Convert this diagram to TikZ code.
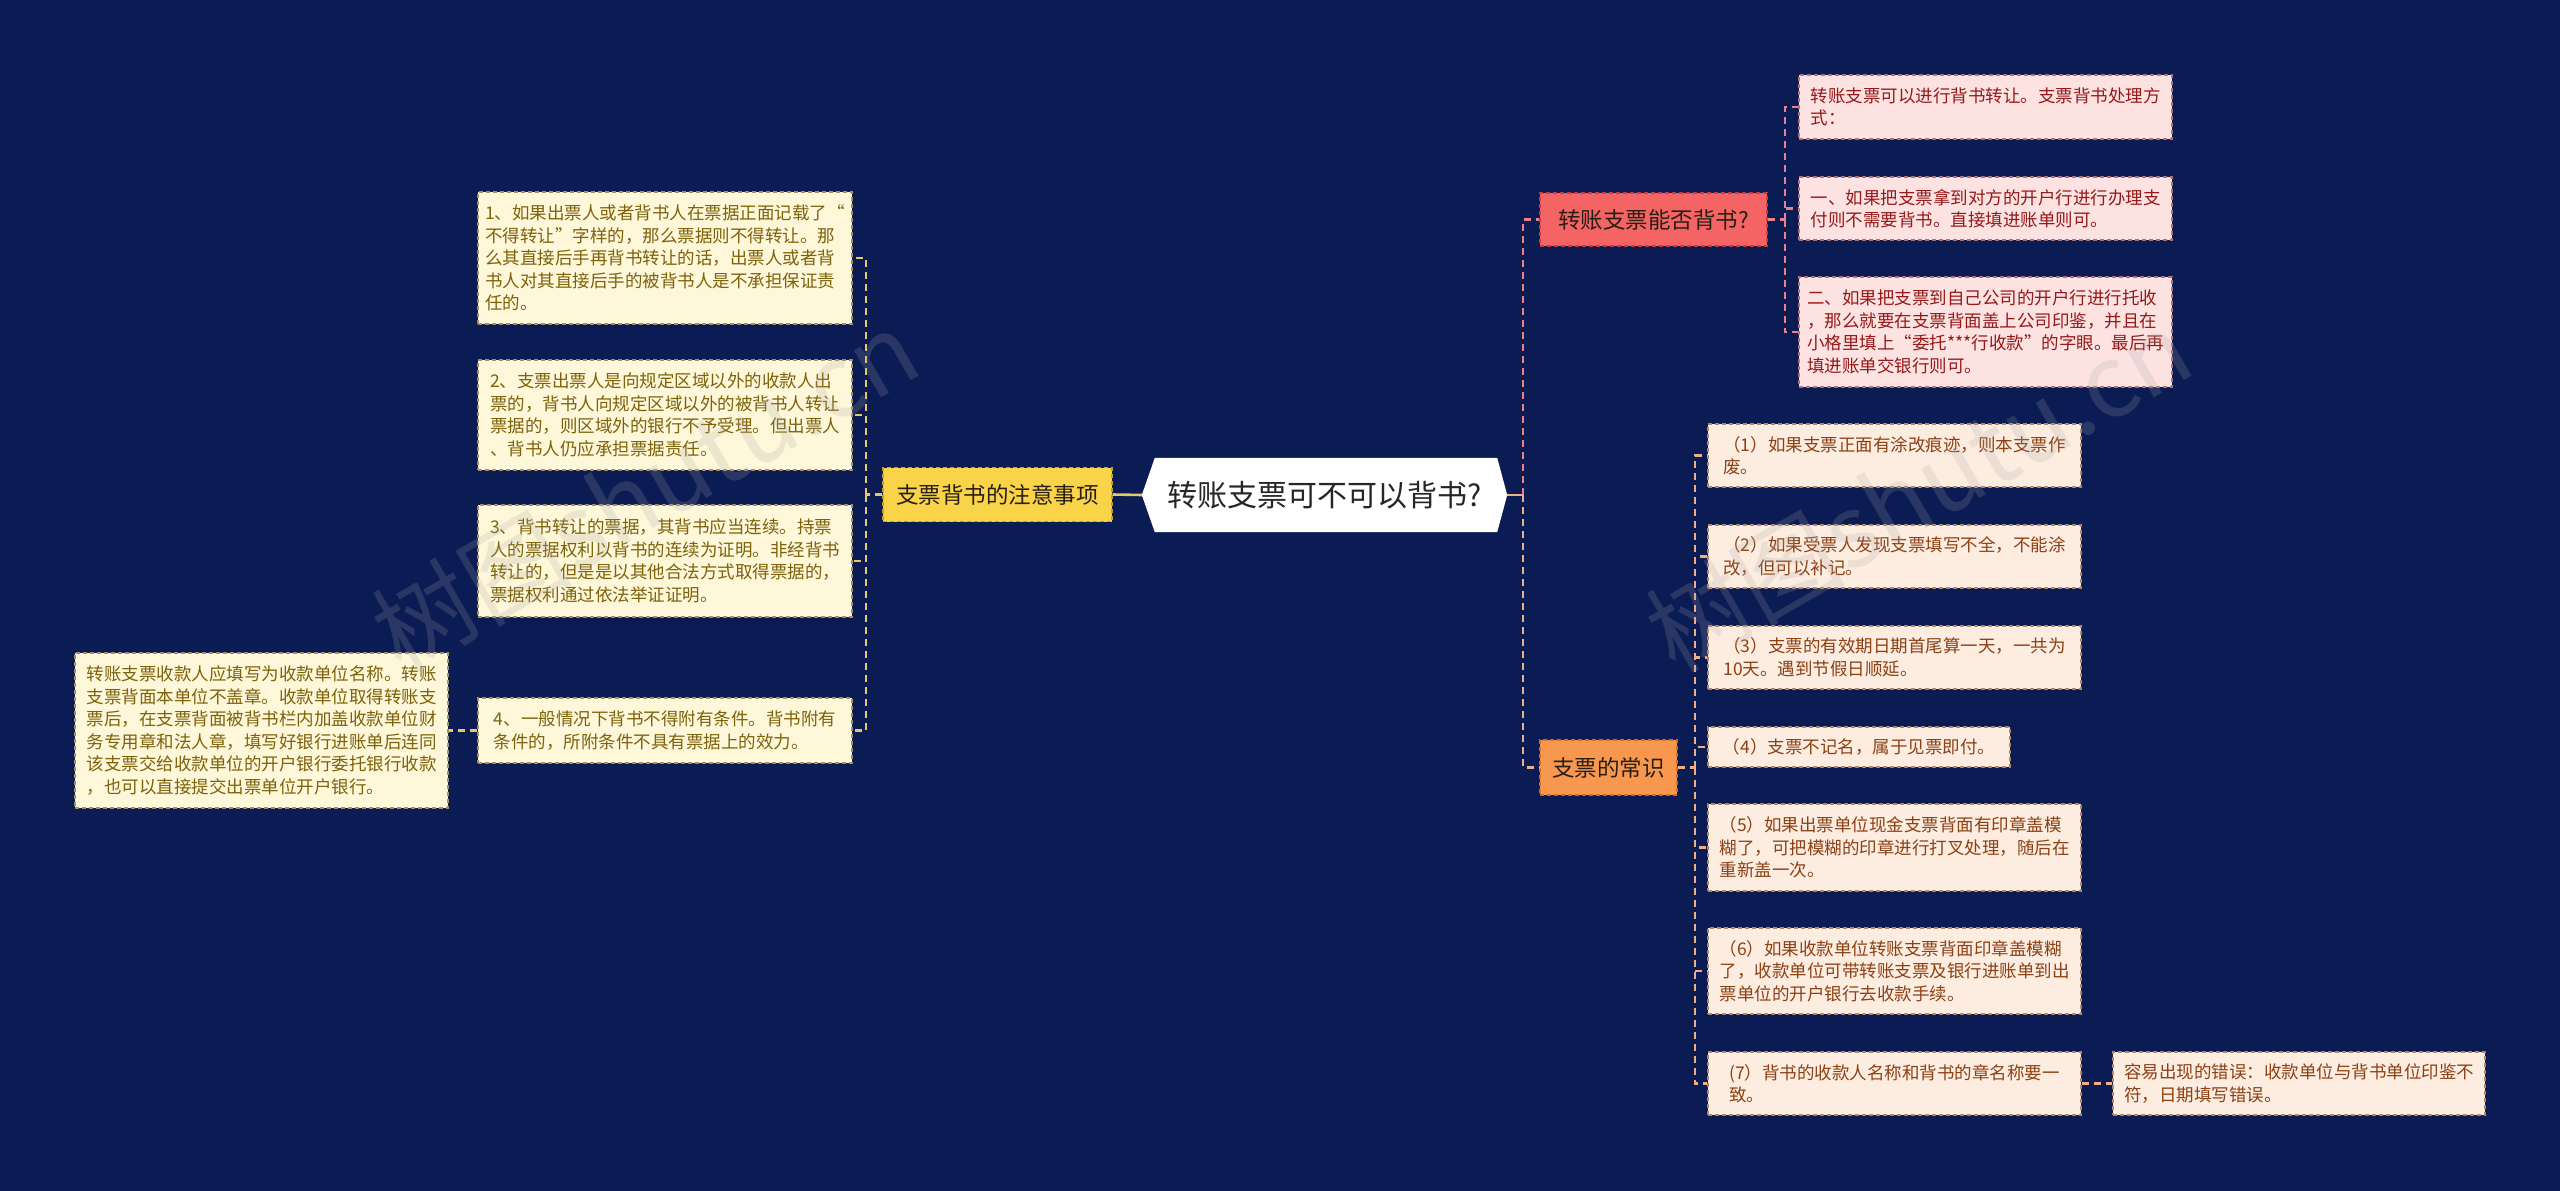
\documentclass[tikz,border=0pt]{standalone}
\usepackage{fontspec}
\setmainfont{Noto Sans CJK SC}
\usetikzlibrary{backgrounds}
\definecolor{bgc}{RGB}{11,27,84}
\definecolor{ymain}{RGB}{249,212,72}
\definecolor{ymainb}{RGB}{200,160,40}
\definecolor{yfill}{RGB}{254,247,218}
\definecolor{ytext}{RGB}{125,98,10}
\definecolor{yborder}{RGB}{160,145,100}
\definecolor{yconn}{RGB}{232,200,100}
\definecolor{rmain}{RGB}{245,100,100}
\definecolor{rmainb}{RGB}{200,60,60}
\definecolor{rfill}{RGB}{253,226,226}
\definecolor{rtext}{RGB}{150,25,25}
\definecolor{rborder}{RGB}{175,115,115}
\definecolor{rconn}{RGB}{232,130,140}
\definecolor{omain}{RGB}{248,152,78}
\definecolor{omainb}{RGB}{205,110,40}
\definecolor{ofill}{RGB}{253,236,224}
\definecolor{otext}{RGB}{140,65,20}
\definecolor{oborder}{RGB}{175,135,105}
\definecolor{oconn}{RGB}{240,175,130}
\definecolor{darktext}{RGB}{40,30,20}
\tikzset{
  leaf/.style={draw, line width=1.3pt, dash pattern=on 4pt off 3pt, inner sep=0pt,
    align=left, font=\fontsize{17.5pt}{22.5pt}\selectfont},
  yleaf/.style={leaf, fill=yfill, draw=yborder, text=ytext},
  rleaf/.style={leaf, fill=rfill, draw=rborder, text=rtext},
  oleaf/.style={leaf, fill=ofill, draw=oborder, text=otext},
  branch/.style={draw, line width=1.3pt, dash pattern=on 4pt off 3pt, inner sep=0pt,
    font=\fontsize{22.5pt}{27pt}\selectfont, text=darktext, minimum height=54pt},
  conn/.style={line width=2.2pt, dash pattern=on 7pt off 5pt},
  lconn/.style={conn, draw=yconn},
  pconn/.style={conn, draw=rconn},
  ocon/.style={conn, draw=oconn},
  wmark/.style={text=gray!70, opacity=0.2, rotate=30, font=\fontsize{100pt}{100pt}\selectfont}
}
\begin{document}
\begin{tikzpicture}[x=1pt,y=-1pt]
\useasboundingbox (0,0) rectangle (2560,1191);
\begin{scope}[on background layer]
\fill[bgc] (0,0) rectangle (2560,1191);
\end{scope}

% central node
\node[minimum width=365pt, minimum height=74pt, inner sep=0pt,
      font=\fontsize{30pt}{34pt}\selectfont, text=black!85] (c) at (1324.5,495) {转账支票可不可以背书?};
\begin{scope}[on background layer]
\fill[white] ([xshift=13pt]c.north west) -- ([xshift=-10pt]c.north east) -- (c.east)
  -- ([xshift=-10pt]c.south east) -- ([xshift=13pt]c.south west) -- (c.west) -- cycle;
\end{scope}

% left branch
\node[branch, fill=ymain, draw=ymainb, minimum width=229pt] (yb) at (997.5,494.5) {支票背书的注意事项};

\node[yleaf, minimum width=374pt, minimum height=132pt] (l1) at (665,258) {1、如果出票人或者背书人在票据正面记载了“\\不得转让”字样的，那么票据则不得转让。那\\么其直接后手再背书转让的话，出票人或者背\\书人对其直接后手的被背书人是不承担保证责\\任的。};
\node[yleaf, minimum width=374pt, minimum height=110pt] (l2) at (665,415) {2、支票出票人是向规定区域以外的收款人出\\票的，背书人向规定区域以外的被背书人转让\\票据的，则区域外的银行不予受理。但出票人\\、背书人仍应承担票据责任。};
\node[yleaf, minimum width=374pt, minimum height=112pt] (l3) at (665,561) {3、背书转让的票据，其背书应当连续。持票\\人的票据权利以背书的连续为证明。非经背书\\转让的，但是是以其他合法方式取得票据的，\\票据权利通过依法举证证明。};
\node[yleaf, minimum width=374pt, minimum height=65pt] (l4) at (665,730.5) {4、一般情况下背书不得附有条件。背书附有\\条件的，所附条件不具有票据上的效力。};
\node[yleaf, minimum width=373pt, minimum height=155pt] (lg) at (261.5,730.5) {转账支票收款人应填写为收款单位名称。转账\\支票背面本单位不盖章。收款单位取得转账支\\票后，在支票背面被背书栏内加盖收款单位财\\务专用章和法人章，填写好银行进账单后连同\\该支票交给收款单位的开户银行委托银行收款\\，也可以直接提交出票单位开户银行。};

\draw[line width=2.6pt, draw=yconn] (c.west) -- (yb.east);
\draw[lconn] (yb.west) -- ++(-16,0) coordinate (lj);
\draw[lconn] (lj) |- (l1.east);
\draw[lconn] (lj) |- (l2.east);
\draw[lconn] (lj) |- (l3.east);
\draw[lconn] (lj) |- (l4.east);
\draw[lconn] (l4.west) -- (lg.east);

% right top branch
\node[branch, fill=rmain, draw=rmainb, minimum width=227pt, minimum height=53pt] (rb) at (1653.5,219.5) {转账支票能否背书?};
\node[rleaf, minimum width=373pt, minimum height=64pt] (r1) at (1985.5,107) {转账支票可以进行背书转让。支票背书处理方\\式：};
\node[rleaf, minimum width=373pt, minimum height=63pt] (r2) at (1985.5,208.5) {一、如果把支票拿到对方的开户行进行办理支\\付则不需要背书。直接填进账单则可。};
\node[rleaf, minimum width=373pt, minimum height=110pt] (r3) at (1985.5,332) {二、如果把支票到自己公司的开户行进行托收\\，那么就要在支票背面盖上公司印鉴，并且在\\小格里填上“委托***行收款”的字眼。最后再\\填进账单交银行则可。};

% right bottom branch
\node[branch, fill=omain, draw=omainb, minimum width=137pt, minimum height=55pt] (ob) at (1608.5,767.5) {支票的常识};
\node[oleaf, minimum width=373pt, minimum height=63pt] (o1) at (1894.5,455.5) {（1）如果支票正面有涂改痕迹，则本支票作\\废。};
\node[oleaf, minimum width=373pt, minimum height=63pt] (o2) at (1894.5,556.5) {（2）如果受票人发现支票填写不全，不能涂\\改，但可以补记。};
\node[oleaf, minimum width=373pt, minimum height=63pt] (o3) at (1894.5,657.5) {（3）支票的有效期日期首尾算一天，一共为\\10天。遇到节假日顺延。};
\node[oleaf, minimum width=302pt, minimum height=40pt] (o4) at (1859,747) {（4）支票不记名，属于见票即付。};
\node[oleaf, minimum width=373pt, minimum height=87pt] (o5) at (1894.5,847.5) {（5）如果出票单位现金支票背面有印章盖模\\糊了，可把模糊的印章进行打叉处理，随后在\\重新盖一次。};
\node[oleaf, minimum width=373pt, minimum height=86pt] (o6) at (1894.5,971) {（6）如果收款单位转账支票背面印章盖模糊\\了，收款单位可带转账支票及银行进账单到出\\票单位的开户银行去收款手续。};
\node[oleaf, minimum width=373pt, minimum height=63pt] (o7) at (1894.5,1083.5) {(7）背书的收款人名称和背书的章名称要一\\致。};
\node[oleaf, minimum width=372pt, minimum height=63pt] (og) at (2299,1083.5) {容易出现的错误：收款单位与背书单位印鉴不\\符，日期填写错误。};

\draw[line width=2.6pt, draw=oconn] (c.east) -- ++(16,0) coordinate (rj);
\draw[pconn] (rj) |- (rb.west);
\draw[ocon] (rj) |- (ob.west);
\draw[pconn] (rb.east) -- ++(17,0) coordinate (rj2);
\draw[pconn] (rj2) |- (r1.west);
\draw[pconn] (rj2) |- (r2.west);
\draw[pconn] (rj2) |- (r3.west);
\draw[ocon] (ob.east) -- ++(17,0) coordinate (oj);
\draw[ocon] (oj) |- (o1.west);
\draw[ocon] (oj) |- (o2.west);
\draw[ocon] (oj) |- (o3.west);
\draw[ocon] (oj) |- (o4.west);
\draw[ocon] (oj) |- (o5.west);
\draw[ocon] (oj) |- (o6.west);
\draw[ocon] (oj) |- (o7.west);
\draw[ocon] (o7.east) -- (og.west);

% watermarks
\node[wmark] (w1) at (645,490) {树图shutu.cn};
\node[wmark] (w2) at (1918,490) {树图shutu.cn};
\end{tikzpicture}
\end{document}
